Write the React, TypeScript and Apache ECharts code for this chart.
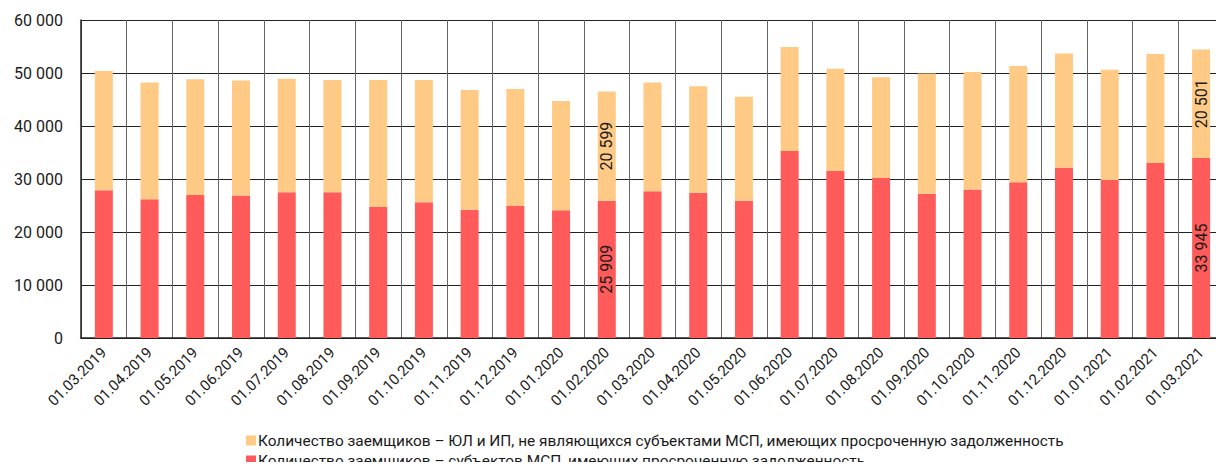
import React, { useEffect, useRef } from "react";
import * as echarts from "echarts";

const categories = [
  "01.03.2019", "01.04.2019", "01.05.2019", "01.06.2019", "01.07.2019", "01.08.2019",
  "01.09.2019", "01.10.2019", "01.11.2019", "01.12.2019", "01.01.2020", "01.02.2020",
  "01.03.2020", "01.04.2020", "01.05.2020", "01.06.2020", "01.07.2020", "01.08.2020",
  "01.09.2020", "01.10.2020", "01.11.2020", "01.12.2020", "01.01.2021", "01.02.2021",
  "01.03.2021",
];

// Borrowers – SME entities with overdue debt (bottom, red)
const smeValues = [
  27900, 26200, 27000, 26900, 27500, 27500, 24700, 25600, 24200, 24900, 24100, 25909,
  27700, 27400, 25900, 35300, 31500, 30200, 27200, 28000, 29400, 32100, 29800, 33000,
  33945,
];

// Borrowers – legal entities and IE that are not SME (top, orange)
const nonSmeValues = [
  22500, 22000, 21800, 21700, 21400, 21200, 24000, 23100, 22600, 22100, 20600, 20599,
  20500, 20100, 19600, 19600, 19300, 19000, 22700, 22200, 21900, 21600, 20800, 20600,
  20501,
];

const labeledIndices = [11, 24];

const yTicks = { min: 0, max: 60000, interval: 10000 };

const nonSmeName =
  "Количество заемщиков – ЮЛ и ИП, не являющихся субъектами МСП, имеющих просроченную задолженность";
const smeName = "Количество заемщиков – субъектов МСП, имеющих просроченную задолженность";

const fmt = (v: number) => String(Math.round(v)).replace(/\B(?=(\d{3})+(?!\d))/g, " ");

export default function App() {
  const ref = useRef<HTMLDivElement>(null);

  useEffect(() => {
    if (!ref.current) return;
    const chart = echarts.init(ref.current, null, { renderer: "svg" });
    const labelStyle = {
      show: true,
      position: "inside",
      rotate: 90,
      fontFamily: "Roboto",
      fontSize: 16,
      color: "#1a1a1a",
      formatter: (p: any) => (labeledIndices.includes(p.dataIndex) ? fmt(p.value) : ""),
    };
    const legendBase = {
      orient: "horizontal",
      left: 246,
      itemWidth: 10,
      itemHeight: 10,
      icon: "rect",
      padding: 0,
      textStyle: { fontFamily: "Roboto", fontSize: 15.4, color: "#1a1a1a", padding: [0, 0, 0, -3] },
    };
    chart.setOption({
      animation: false,
      textStyle: { fontFamily: "Roboto" },
      grid: { left: 81, right: -9, top: 20, bottom: 132, containLabel: false },
      legend: [
        { ...legendBase, top: 433, data: [nonSmeName] },
        { ...legendBase, top: 453, data: [smeName] },
      ],
      xAxis: {
        type: "category",
        data: categories,
        axisLine: { show: true, lineStyle: { color: "#222", width: 1.5 } },
        axisTick: { show: false },
        splitLine: { show: true, interval: 0, lineStyle: { color: "#666", width: 1 } },
        axisLabel: {
          interval: 0,
          rotate: 45,
          fontSize: 15,
          color: "#1a1a1a",
          margin: 12,
          fontFamily: "Roboto",
        },
      },
      yAxis: {
        type: "value",
        min: yTicks.min,
        max: yTicks.max,
        interval: yTicks.interval,
        axisLine: { show: true, lineStyle: { color: "#222", width: 1.5 } },
        axisTick: { show: false },
        splitLine: { show: true, lineStyle: { color: "#222", width: 1 } },
        axisLabel: {
          fontSize: 16,
          color: "#1a1a1a",
          margin: 18,
          fontFamily: "Roboto",
          formatter: (v: number) => fmt(v),
        },
      },
      series: [
        {
          name: smeName,
          type: "bar",
          stack: "total",
          barWidth: 18,
          data: smeValues,
          itemStyle: { color: "#FF5B5B" },
          label: labelStyle,
        },
        {
          name: nonSmeName,
          type: "bar",
          stack: "total",
          barWidth: 18,
          data: nonSmeValues,
          itemStyle: { color: "#FFCA85" },
          label: labelStyle,
        },
      ],
    });
    return () => chart.dispose();
  }, []);

  return <div ref={ref} style={{ width: 1224, height: 470, margin: -8 }} />;
}
